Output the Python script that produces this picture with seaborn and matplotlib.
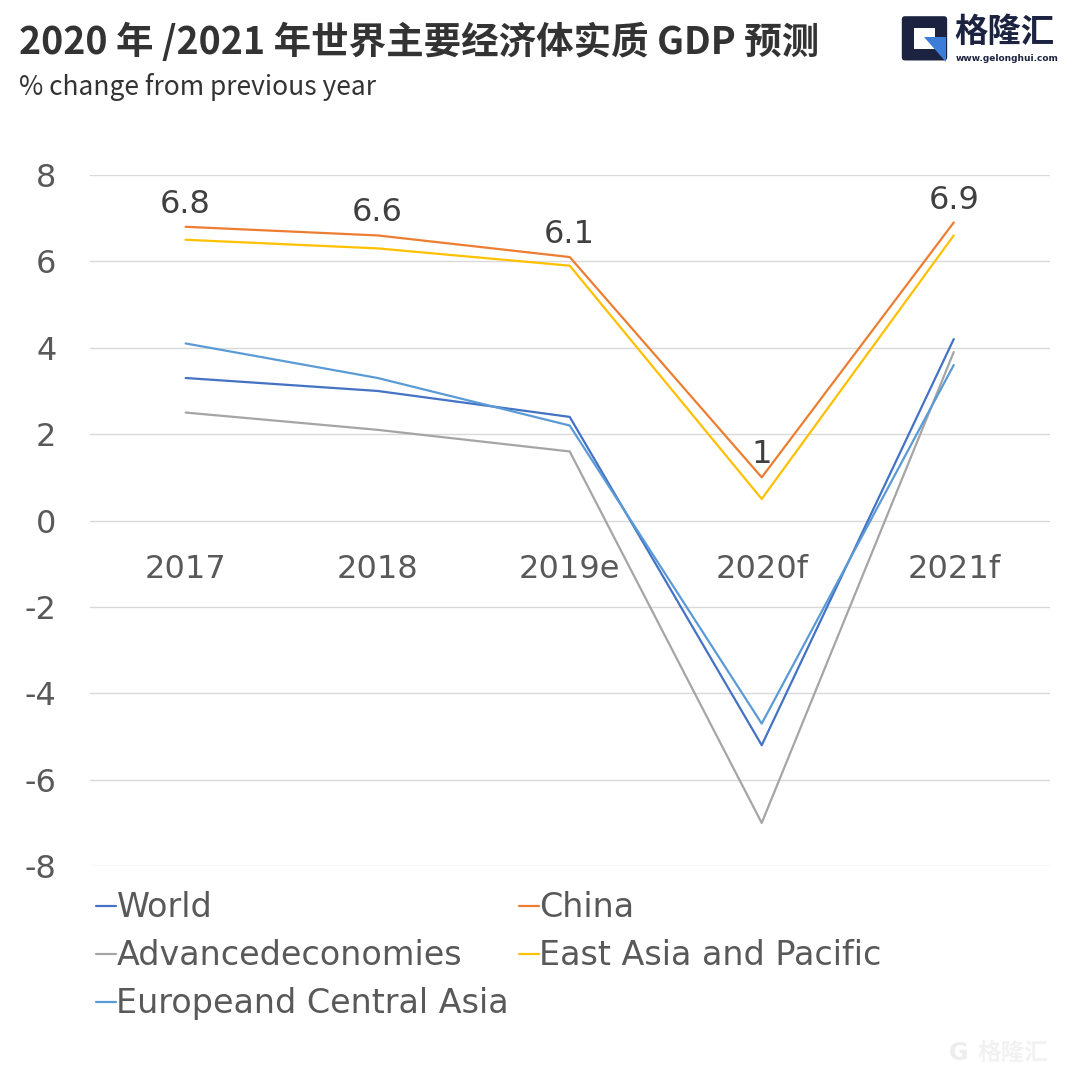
import numpy as np
import pandas as pd
import matplotlib
matplotlib.use("Agg")
import matplotlib.pyplot as plt
import seaborn as sns
from matplotlib.patches import FancyBboxPatch, Polygon

# data
years = ["2017", "2018", "2019e", "2020f", "2021f"]
world = [3.3, 3.0, 2.4, -5.2, 4.2]
china = [6.8, 6.6, 6.1, 1.0, 6.9]
advanced = [2.5, 2.1, 1.6, -7.0, 3.9]
east_asia = [6.5, 6.3, 5.9, 0.5, 6.6]
europe_ca = [4.1, 3.3, 2.2, -4.7, 3.6]
series_names = ["World", "China", "Advancedeconomies", "East Asia and Pacific", "Europeand Central Asia"]
china_labels = ["6.8", "6.6", "6.1", "1", "6.9"]

colors = {"World": "#4472C4", "China": "#ED7D31", "Advancedeconomies": "#A5A5A5",
          "East Asia and Pacific": "#FFC000", "Europeand Central Asia": "#5B9BD5"}

rows = []
for name, vals in zip(series_names, [world, china, advanced, east_asia, europe_ca]):
    for i, (yr, v) in enumerate(zip(years, vals)):
        rows.append({"series": name, "idx": i, "year": yr, "value": v})
df = pd.DataFrame(rows)

sns.set_theme(style="white")
plt.rcParams["font.family"] = ["DejaVu Sans", "Noto Sans CJK SC"]

fig = plt.figure(figsize=(10.8, 10.8), dpi=100)
ax = fig.add_axes([0.083, 0.198, 0.889, 0.640])

sns.lineplot(data=df, x="idx", y="value", hue="series", hue_order=series_names,
             palette=colors, linewidth=1.6, ax=ax, legend=False)

# china data labels
for i, (v, lab) in enumerate(zip(china, china_labels)):
    ax.annotate(lab, (i, v), xytext=(0, 5), textcoords="offset points",
                ha="center", va="bottom", fontsize=23, color="#404040")

ax.set_xlim(-0.5, 4.5)
ax.set_ylim(-8, 8)
ax.set_yticks(np.arange(-8, 9, 2))
ax.set_yticklabels([str(t) for t in range(-8, 9, 2)])
ax.set_xticks(range(len(years)))
ax.set_xticklabels(years)
ax.spines["bottom"].set_position(("data", 0))
for s in ax.spines.values():
    s.set_visible(False)
ax.grid(axis="y", color="#D9D9D9", linewidth=1)
ax.tick_params(axis="y", length=0, pad=24, labelsize=23, labelcolor="#595959")
ax.tick_params(axis="x", length=0, pad=24, labelsize=23, labelcolor="#595959")
ax.set_xlabel("")
ax.set_ylabel("")

# legend, two columns, row-major order
order = ["World", "Advancedeconomies", "Europeand Central Asia", "China", "East Asia and Pacific"]
handles = [plt.Line2D([], [], color=colors[n], linewidth=1.6) for n in order]
fig.legend(handles, order, loc="upper left", bbox_to_anchor=(0.077, 0.187), ncol=2,
           frameon=False, fontsize=24, handlelength=0.6, handletextpad=0.0,
           columnspacing=0.3, labelspacing=0.45, labelcolor="#595959", borderaxespad=0)

# title and subtitle
fig.text(0.018, 0.961, "2020 年 /2021 年世界主要经济体实质 GDP 预测", fontsize=27,
         fontweight="bold", color="#333333", family=["Noto Sans CJK SC", "DejaVu Sans"], va="center")
fig.text(0.018, 0.919, "% change from previous year", fontsize=19, color="#333333",
         family=["Noto Sans CJK SC", "DejaVu Sans"], va="center")

# logo top right
fig.patches.append(FancyBboxPatch((0.838, 0.947), 0.036, 0.035, boxstyle="round,pad=0.003",
                                  transform=fig.transFigure, facecolor="#1B2340", edgecolor="none"))
fig.patches.append(FancyBboxPatch((0.846, 0.955), 0.02, 0.019, boxstyle="square,pad=0",
                                  transform=fig.transFigure, facecolor="white", edgecolor="none"))
fig.patches.append(Polygon([[0.856, 0.966], [0.876, 0.966], [0.876, 0.943]], closed=True,
                           transform=fig.transFigure, facecolor="#3C7DD9", edgecolor="none"))
fig.text(0.884, 0.970, "格隆汇", fontsize=24, color="#1B2340", va="center",
         family=["Noto Sans CJK SC"], fontweight="bold")
fig.text(0.885, 0.946, "www.gelonghui.com", fontsize=6.5, color="#1B2340", va="center",
         family=["DejaVu Sans"], fontweight="bold")

# watermark bottom right
fig.text(0.905, 0.025, "格隆汇", fontsize=17, color="#F2F2F2", va="center",
         family=["Noto Sans CJK SC"], fontweight="bold")
fig.text(0.888, 0.025, "G", fontsize=17, color="#EDEDED", va="center", ha="center",
         family=["DejaVu Sans"], fontweight="bold")

fig.savefig("out.png", dpi=100, facecolor="white")
